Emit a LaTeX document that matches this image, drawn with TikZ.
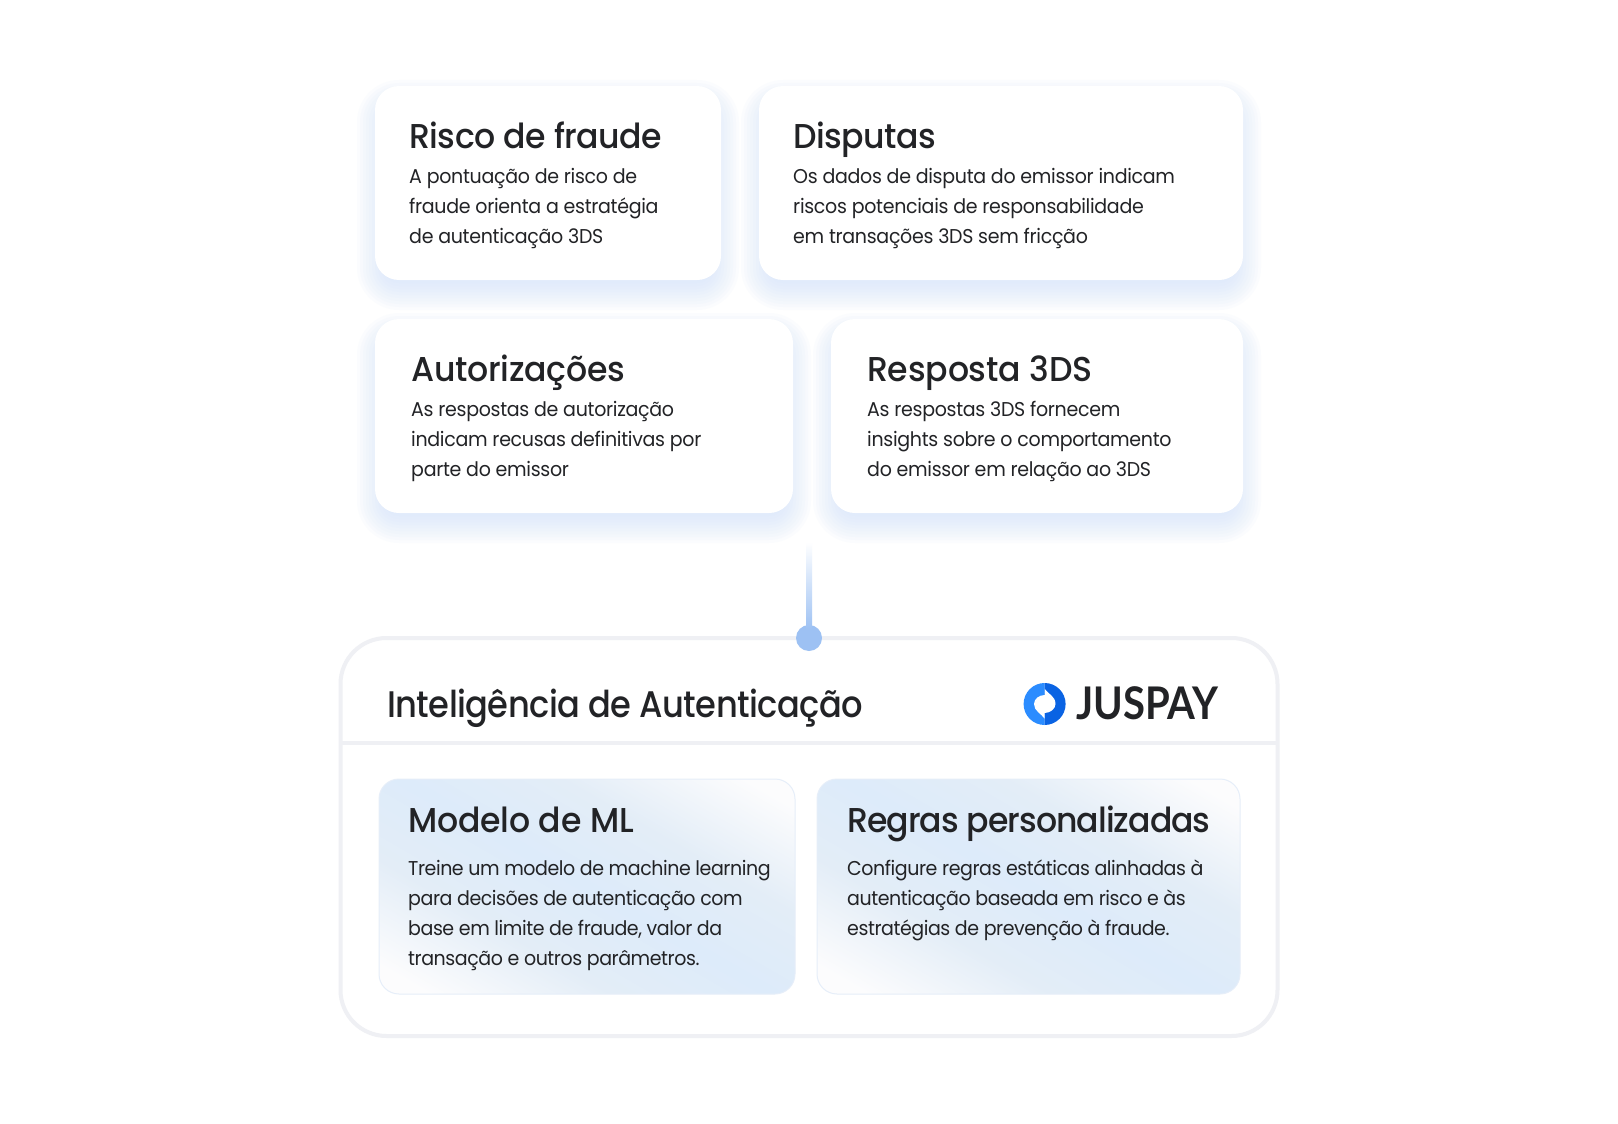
\documentclass[tikz,border=0pt]{standalone}
\usepackage{fontspec}
\usetikzlibrary{calc}
\setmainfont{Poppins}[Scale=1]
\newfontfamily\headfont{Poppins Medium}[LetterSpace=-1.5,FakeStretch=0.96]
\newfontfamily\bigheadfont{Poppins Medium}[LetterSpace=-1.5,FakeStretch=0.91]
\newfontfamily\bodyfont{Poppins}[LetterSpace=-1.5,FakeStretch=0.95]
\newfontfamily\panelbodyfont{Poppins}[LetterSpace=-2.2,FakeStretch=0.95]
\newfontfamily\logofont{Lato}[BoldFont={Lato Bold},FakeStretch=0.89]
\definecolor{ink}{HTML}{222326}
\definecolor{softline}{HTML}{EFF0F4}
\definecolor{glow}{HTML}{CFE2FB}
\definecolor{dotblue}{HTML}{9DC1F3}
\definecolor{panelblue}{HTML}{DDEBFA}
\definecolor{panelmid}{HTML}{E3EDF7}
\definecolor{panelpale}{HTML}{FCFCFD}
\definecolor{panelline}{HTML}{E6EEF9}
\definecolor{logolight}{HTML}{2B8CFF}
\definecolor{logodark}{HTML}{0A63E3}
\pgfdeclareverticalshading{panelsh}{100bp}{color(0bp)=(panelpale); color(20bp)=(panelpale); color(36bp)=(panelmid); color(50bp)=(panelblue); color(64bp)=(panelmid); color(80bp)=(panelpale); color(100bp)=(panelpale)}
\tikzset{
  x=1pt,y=-1pt,
  cardtitle/.style={anchor=base west,inner sep=0pt,text=ink,font=\headfont\fontsize{34.5}{36}\selectfont},
  cardtext/.style={anchor=north west,inner sep=0pt,text=ink,align=left,font=\bodyfont\fontsize{20}{30}\selectfont},
  paneltext/.style={cardtext,font=\panelbodyfont\fontsize{20}{30}\selectfont},
  whitecard/.style={fill=white,rounded corners=24pt},
  panel/.style={draw=panelline,line width=1pt,rounded corners=20pt,shading=panelsh,shading angle=-30},
  frameline/.style={draw=softline,line width=4pt},
}
\newcommand{\softshadow}[4]{%
  \foreach \g in {18,15,...,-12}{%
    \fill[glow,opacity=0.08,rounded corners=24pt+\g pt]
      (#1-\g,#2-\g+12) rectangle (#3+\g,#4+\g+12);
  }%
}
\begin{document}
\begin{tikzpicture}
\useasboundingbox (0,0) rectangle (1618,1124);
\fill[white] (0,0) rectangle (1618,1124);
% shadows
\softshadow{375}{86}{721}{280}
\softshadow{759}{86}{1243}{280}
\softshadow{375}{319}{793}{513}
\softshadow{831}{319}{1243}{513}
% cards
\path[whitecard] (375,86) rectangle (721,280);
\path[whitecard] (759,86) rectangle (1243,280);
\path[whitecard] (375,319) rectangle (793,513);
\path[whitecard] (831,319) rectangle (1243,513);
\node[cardtitle] (t1) at (409,148) {Risco de fraude};
\node[cardtext] (b1) at (409,168) {A pontuação de risco de\\fraude orienta a estratégia\\de autenticação 3DS};
\node[cardtitle] (t2) at (793,148) {Disputas};
\node[cardtext] (b2) at (793,168) {Os dados de disputa do emissor indicam\\riscos potenciais de responsabilidade\\em transações 3DS sem fricção};
\node[cardtitle] (t3) at (411,381) {\addfontfeature{LetterSpace=-0.8}Autorizações};
\node[cardtext] (b3) at (411,401) {As respostas de autorização\\indicam recusas definitivas por\\parte do emissor};
\node[cardtitle] (t4) at (867,381) {\addfontfeature{LetterSpace=-0.5}Resposta 3DS};
\node[cardtext] (b4) at (867,401) {As respostas 3DS fornecem\\insights sobre o comportamento\\do emissor em relação ao 3DS};
% frame
\draw[frameline,fill=white,rounded corners=46pt] (340.5,638) rectangle (1277.5,1036);
\draw[frameline] (340.5,743) -- (1277.5,743);
% connector
\coordinate (cs) at (809,542);
\node[circle,fill=dotblue,minimum size=26pt,inner sep=0pt] (dot) at (809,638) {};
\shade[bottom color=dotblue,top color=white] (806,542) rectangle (812,630);
\node[inner sep=0pt,anchor=base west,text=ink,font=\bigheadfont\fontsize{37}{40}\selectfont] (h) at (387,717) {Inteligência de Autenticação};
% logo
\begin{scope}
\fill[logolight] (1044.6,683) arc[start angle=-90,delta angle=-180,radius=21] -- cycle;
\fill[logodark] (1044.6,683) arc[start angle=-90,delta angle=180,radius=21] -- cycle;
\fill[white] (1044.8,689) .. controls (1048,694) and (1055.5,696) .. (1055.5,704) .. controls (1055.5,709) and (1050,713) .. (1044.6,713) -- (1044.6,718.5) .. controls (1041,713.5) and (1034,711) .. (1034,704) .. controls (1034,699) and (1039,695) .. (1044.8,695) -- cycle;
\end{scope}
\node[inner sep=0pt,anchor=base west,text=ink,font=\logofont\bfseries\fontsize{45}{45}\selectfont] (logo) at (1076,719) {JUSPAY};
% panels
\path[panel] (379,779) rectangle (795,994);
\path[panel] (817,779) rectangle (1240,994);
\node[cardtitle] (t5) at (408,832) {\addfontfeature{LetterSpace=-0.5}Modelo de ML};
\node[paneltext] (b5) at (408,860) {Treine um modelo de machine learning\\para decisões de autenticação com\\base em limite de fraude, valor da\\transação e outros parâmetros.};
\node[cardtitle] (t6) at (847,832) {\addfontfeature{LetterSpace=-2.8}Regras personalizadas};
\node[paneltext] (b6) at (847,860) {Configure regras estáticas alinhadas à\\autenticação baseada em risco e às\\estratégias de prevenção à fraude.};
\end{tikzpicture}
\end{document}
